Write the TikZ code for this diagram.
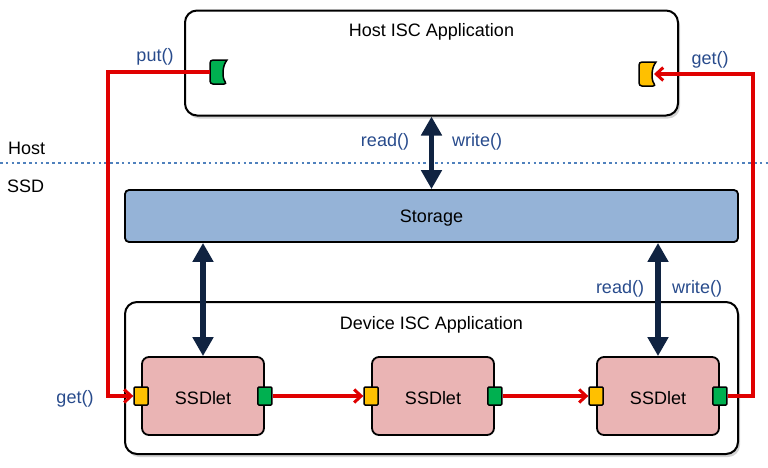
\documentclass[tikz,border=0pt]{standalone}
\usepackage{fontspec}
\setmainfont{Liberation Sans}
\usetikzlibrary{arrows.meta,shadows,calc}
\definecolor{labelblue}{RGB}{40,75,140}
\definecolor{navy}{RGB}{16,35,65}
\definecolor{dotblue}{RGB}{79,129,189}
\definecolor{storfill}{RGB}{149,179,215}
\definecolor{ssdfill}{RGB}{234,180,180}
\definecolor{redline}{RGB}{224,0,0}
\definecolor{portgreen}{RGB}{0,176,80}
\definecolor{portyellow}{RGB}{255,192,0}
\tikzset{
  txt/.style={font=\fontsize{18}{21}\selectfont, inner sep=0pt},
  bluetxt/.style={txt, text=labelblue},
  bigbox/.style={draw=black, line width=2pt, fill=white, rounded corners=12pt, inner sep=0pt,
     drop shadow={shadow xshift=2pt, shadow yshift=-3pt, opacity=0.35}},
  storbox/.style={draw=black, line width=1.8pt, fill=storfill, rounded corners=4pt, inner sep=0pt,
     minimum width=613pt, minimum height=52pt},
  ssdbox/.style={draw=black, line width=1.8pt, fill=ssdfill, rounded corners=7pt, inner sep=0pt,
     minimum width=122pt, minimum height=78pt},
  port/.style={draw=black, line width=1.5pt, rounded corners=1pt, inner sep=0pt,
     minimum width=14pt, minimum height=18pt},
  dbl/.style={navy, line width=5.5pt, {Triangle[width=20pt,length=19pt]}-{Triangle[width=20pt,length=19pt]}},
  redarrow/.style={redline, line width=3.2pt, -{Straight Barb[length=7pt,width=13pt,line width=3pt]}},
  hostport/.style={draw=black, line width=1.5pt},
}
\begin{document}
\begin{tikzpicture}[x=1pt,y=-1pt]
\useasboundingbox (0,0) rectangle (768,467);
% host box
\node[bigbox, minimum width=493pt, minimum height=105pt] (host) at (431.5,63) {};
\node[txt] (hosttitle) at (431.5,32) {Host ISC Application};
% host ports
\draw[hostport, fill=portgreen, rounded corners=3pt] (227,60) -- (210,60) -- (210,84) -- (227,84) [sharp corners] .. controls (222,78) and (222,66) .. (227,60) -- cycle;
\coordinate (putport) at (210,72);
\draw[hostport, fill=portyellow, rounded corners=3pt] (656,62) -- (639,62) -- (639,86) -- (656,86) [sharp corners] .. controls (651,80) and (651,68) .. (656,62) -- cycle;
\coordinate (getport) at (654,74);
\node[bluetxt] (putlbl) at (155,57) {put()};
\node[bluetxt] (gettop) at (710,60) {get()};
% host / ssd separation
\node[txt, anchor=west] (hostlbl) at (8,148) {Host};
\node[txt, anchor=west] (ssdlbl) at (7,186) {SSD};
\coordinate (sepL) at (0,163);
\coordinate (sepR) at (768,163);
\draw[dotblue, line width=2.6pt, dash pattern=on 2.6pt off 3.2pt] (sepL) -- (sepR);
% storage
\node[storbox] (storage) at (431.5,216) {};
\node[txt] (stortxt) at (431.5,218) {Storage};
% device box
\node[bigbox, minimum width=613pt, minimum height=152pt] (device) at (431.5,378) {};
\node[txt] (devtitle) at (431.5,325) {Device ISC Application};
% ssdlets
\node[ssdbox] (s1) at (203,396) {};
\node[ssdbox] (s2) at (433,396) {};
\node[ssdbox] (s3) at (658,396) {};
\node[txt] (s1t) at (203,398) {SSDlet};
\node[txt] (s2t) at (433,398) {SSDlet};
\node[txt] (s3t) at (658,398) {SSDlet};
\foreach \s in {s1,s2,s3}{
  \node[port, fill=portyellow] (\s-in) at (\s.west) {};
  \node[port, fill=portgreen] (\s-out) at (\s.east) {};
}
% navy double arrows
\draw[dbl] (host.south) -- (storage.north);
\draw[dbl] (storage.south -| s1.north) -- (s1.north);
\draw[dbl] (storage.south -| s3.north) -- (s3.north);
\node[bluetxt] (rd1) at (385,142) {read()};
\node[bluetxt] (wr1) at (477,142) {write()};
\node[bluetxt] (rd2) at (620,289) {read()};
\node[bluetxt] (wr2) at (697,289) {write()};
% red flows
\draw[redarrow] (s1-out.east) -- (s2-in.west);
\draw[redarrow] (s2-out.east) -- (s3-in.west);
\draw[redarrow] (putport) -- (108,72) -- (108,396) -- (s1-in.west);
\draw[redarrow] (s3-out.east) -- (753,396) -- (753,74) -- (getport);
\node[bluetxt] (getleft) at (75,399) {get()};
\end{tikzpicture}
\end{document}
